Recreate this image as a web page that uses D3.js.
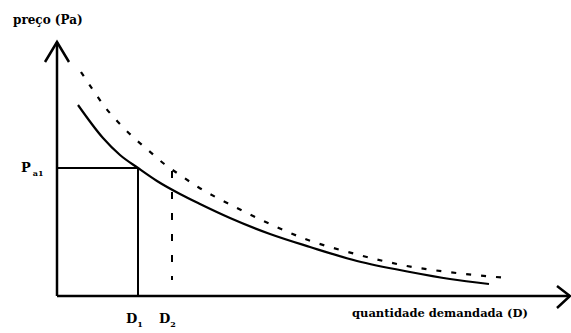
<!DOCTYPE html>
<html>
<head>
<meta charset="utf-8">
<script src="https://cdn.jsdelivr.net/npm/d3@7"></script>
<style>
  body { margin: 0; background: #fff; }
  svg text { font-family: "DejaVu Serif", serif; font-weight: bold; fill: #000; }
</style>
</head>
<body>
<div id="chart"></div>
<script>
// demanda original (linha cheia)
const demand1Q = [4.2, 9.2, 12.6, 16.2, 20, 24.6, 28.6, 34.6, 42.6, 50.6, 60, 70.6, 78.6, 86.4];
const demand1P = [76.4, 63.2, 56.4, 51.2, 46, 40.8, 36.8, 31.2, 24.8, 19.6, 14, 9.6, 6.8, 4.8];
// demanda deslocada (tracejada)
const demand2Q = [4.8, 7.2, 9.6, 12.2, 15.2, 18.2, 21.2, 24.6, 28.2, 35.6, 42.6, 50.2, 58.2, 66.2, 70, 78.2, 90];
const demand2P = [89.6, 82.4, 75.6, 69.6, 63.6, 58.4, 53.2, 48.4, 43.6, 35.6, 28.8, 22.4, 17.6, 13.6, 12, 9.6, 7.2];

const priceA1 = 51.2;
const qtyD1 = 16.2;
const qtyD2 = 23;
const d2Range = [50, 6.4];

const width = 571, height = 333;

const x = d3.scaleLinear().domain([0, 100]).range([57, 557]);
const y = d3.scaleLinear().domain([0, 100]).range([296, 46]);

const svg = d3.select("#chart").append("svg")
    .attr("width", width)
    .attr("height", height);

const line = d3.line()
    .x(d => x(d[0]))
    .y(d => y(d[1]))
    .curve(d3.curveMonotoneX);

// eixos
const xEnd = x(102.6), yTop = y(101.6);
svg.append("line")
    .attr("x1", x(0)).attr("y1", y(0))
    .attr("x2", xEnd).attr("y2", y(0))
    .attr("stroke", "#000").attr("stroke-width", 2.5);
svg.append("line")
    .attr("x1", x(0)).attr("y1", y(0))
    .attr("x2", x(0)).attr("y2", yTop)
    .attr("stroke", "#000").attr("stroke-width", 2.5);

// pontas das setas
svg.append("path")
    .attr("d", `M${x(0) - 12},${yTop + 20} L${x(0)},${yTop} L${x(0) + 12},${yTop + 20}`)
    .attr("fill", "none").attr("stroke", "#000").attr("stroke-width", 2.5);
svg.append("path")
    .attr("d", `M${xEnd - 13},${y(0) - 10} L${xEnd},${y(0)} L${xEnd - 13},${y(0) + 12}`)
    .attr("fill", "none").attr("stroke", "#000").attr("stroke-width", 2.5);

// curvas de demanda
svg.append("path")
    .datum(d3.zip(demand1Q, demand1P))
    .attr("d", line)
    .attr("fill", "none").attr("stroke", "#000").attr("stroke-width", 2.2);

svg.append("path")
    .datum(d3.zip(demand2Q, demand2P))
    .attr("d", line)
    .attr("fill", "none").attr("stroke", "#000").attr("stroke-width", 2.2)
    .attr("stroke-dasharray", "5,10");

// Pa1 e D1
svg.append("line")
    .attr("x1", x(0)).attr("y1", y(priceA1))
    .attr("x2", x(qtyD1)).attr("y2", y(priceA1))
    .attr("stroke", "#000").attr("stroke-width", 2);
svg.append("line")
    .attr("x1", x(qtyD1)).attr("y1", y(priceA1))
    .attr("x2", x(qtyD1)).attr("y2", y(0))
    .attr("stroke", "#000").attr("stroke-width", 2);

// D2 tracejado
svg.append("line")
    .attr("x1", x(qtyD2)).attr("y1", y(d2Range[0]))
    .attr("x2", x(qtyD2)).attr("y2", y(d2Range[1]))
    .attr("stroke", "#000").attr("stroke-width", 2)
    .attr("stroke-dasharray", "7,14");

// textos
svg.append("text")
    .attr("x", 13).attr("y", 24)
    .style("font-size", "12px")
    .text("preço (Pa)");

svg.append("text")
    .attr("x", 352).attr("y", 317)
    .style("font-size", "11.5px")
    .text("quantidade demandada (D)");

const pLabel = svg.append("text")
    .attr("x", 21).attr("y", y(priceA1) + 4)
    .style("font-size", "13px");
pLabel.append("tspan").text("P");
pLabel.append("tspan").attr("dx", 2).attr("dy", 4).style("font-size", "8px").text("a1");

const d1Label = svg.append("text")
    .attr("x", x(qtyD1) - 12).attr("y", 323)
    .style("font-size", "13px");
d1Label.append("tspan").text("D");
d1Label.append("tspan").attr("dy", 4).style("font-size", "8px").text("1");

const d2Label = svg.append("text")
    .attr("x", x(qtyD2) - 13).attr("y", 323)
    .style("font-size", "13px");
d2Label.append("tspan").text("D");
d2Label.append("tspan").attr("dy", 4).style("font-size", "8px").text("2");
</script>
</body>
</html>
